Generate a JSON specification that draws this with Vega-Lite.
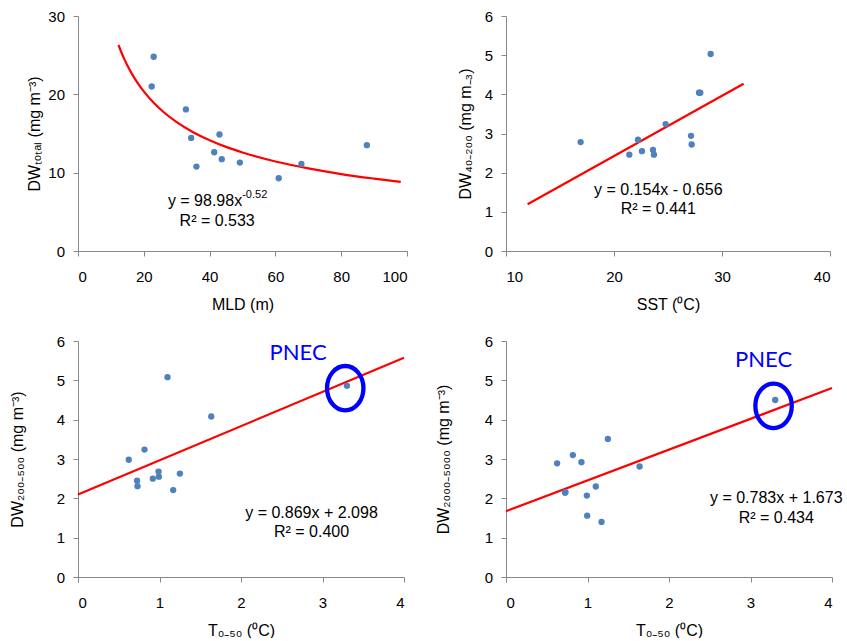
{
  "$schema": "https://vega.github.io/schema/vega-lite/v6.json",
  "padding": {"left": 9, "top": 9, "right": 0, "bottom": 0},
  "background": "white",
  "datasets": {
    "p1pts": [
      {"mld": 23.0, "dw": 24.8}, {"mld": 22.4, "dw": 21.0}, {"mld": 32.8, "dw": 18.07},
      {"mld": 34.4, "dw": 14.44}, {"mld": 43.0, "dw": 14.87}, {"mld": 41.4, "dw": 12.61},
      {"mld": 43.7, "dw": 11.72}, {"mld": 36.0, "dw": 10.78}, {"mld": 49.2, "dw": 11.29},
      {"mld": 61.0, "dw": 9.29}, {"mld": 67.9, "dw": 11.12}, {"mld": 87.8, "dw": 13.51}
    ],
    "p1fit": [
      {"mld": 12.3, "dw": 26.30}, {"mld": 14, "dw": 24.56}, {"mld": 16, "dw": 22.90},
      {"mld": 18, "dw": 21.53}, {"mld": 20, "dw": 20.37}, {"mld": 23, "dw": 18.92},
      {"mld": 26, "dw": 17.74}, {"mld": 30, "dw": 16.45}, {"mld": 35, "dw": 15.17},
      {"mld": 40, "dw": 14.14}, {"mld": 45, "dw": 13.29}, {"mld": 50, "dw": 12.58},
      {"mld": 60, "dw": 11.43}, {"mld": 70, "dw": 10.54}, {"mld": 80, "dw": 9.82},
      {"mld": 90, "dw": 9.24}, {"mld": 98.1, "dw": 8.82}
    ],
    "p2pts": [
      {"sst": 16.91, "dw": 2.78}, {"sst": 21.42, "dw": 2.46}, {"sst": 22.22, "dw": 2.84},
      {"sst": 22.59, "dw": 2.55}, {"sst": 23.61, "dw": 2.58}, {"sst": 23.70, "dw": 2.46},
      {"sst": 24.78, "dw": 3.24}, {"sst": 27.13, "dw": 2.94}, {"sst": 27.19, "dw": 2.72},
      {"sst": 27.87, "dw": 4.04}, {"sst": 27.99, "dw": 4.04}, {"sst": 28.95, "dw": 5.03}
    ],
    "p2fit": [{"sst": 12, "dw": 1.192}, {"sst": 32, "dw": 4.272}],
    "p3pts": [
      {"t": 1.098, "dw": 5.08}, {"t": 1.635, "dw": 4.08}, {"t": 0.816, "dw": 3.24},
      {"t": 0.623, "dw": 2.98}, {"t": 0.725, "dw": 2.45}, {"t": 0.730, "dw": 2.31},
      {"t": 0.918, "dw": 2.50}, {"t": 0.988, "dw": 2.68}, {"t": 0.992, "dw": 2.55},
      {"t": 1.25, "dw": 2.63}, {"t": 1.168, "dw": 2.21}, {"t": 3.30, "dw": 4.86}
    ],
    "p3fit": [{"t": 0, "dw": 2.098}, {"t": 4, "dw": 5.574}],
    "p4pts": [
      {"t": 0.627, "dw": 2.89}, {"t": 0.820, "dw": 3.10}, {"t": 0.926, "dw": 2.92},
      {"t": 1.25, "dw": 3.51}, {"t": 1.639, "dw": 2.81}, {"t": 0.725, "dw": 2.14},
      {"t": 0.730, "dw": 2.16}, {"t": 1.102, "dw": 2.30}, {"t": 0.992, "dw": 2.07},
      {"t": 0.996, "dw": 1.56}, {"t": 1.172, "dw": 1.40}, {"t": 3.303, "dw": 4.50}
    ],
    "p4fit": [{"t": 0, "dw": 1.673}, {"t": 4, "dw": 4.805}]
  },
  "config": {
    "view": {"stroke": null},
    "axis": {
      "grid": false, "domainColor": "#888888", "tickColor": "#888888", "tickSize": 5,
      "labelFont": "Liberation Sans", "labelFontSize": 15, "labelColor": "#000000",
      "titleFont": "Liberation Sans", "titleFontSize": 16, "titleFontWeight": "normal", "titleColor": "#000000",
      "format": "d", "labelOverlap": false
    },
    "axisX": {"labelPadding": 13, "titlePadding": 12},
    "axisY": {"labelPadding": 8.5},
    "text": {"font": "Liberation Sans", "fontSize": 16, "color": "#000000"},
    "point": {"filled": true, "color": "#4F81BD", "size": 40, "opacity": 1}
  },
  "bounds": "flush",
  "columns": 2,
  "spacing": {"row": 90, "column": 99},
  "concat": [
    {
      "width": 329, "height": 235,
      "layer": [
        {
          "data": {"name": "p1fit"},
          "mark": {"type": "line", "color": "#FF0000", "strokeWidth": 2.2, "interpolate": "monotone"},
          "encoding": {
            "x": {"field": "mld", "type": "quantitative", "scale": {"domain": [0, 100], "nice": false},
                  "axis": {"values": [0, 20, 40, 60, 80, 100], "labelOverlap": false}, "title": "MLD (m)"},
            "y": {"field": "dw", "type": "quantitative", "scale": {"domain": [0, 30], "nice": false},
                  "axis": {"values": [0, 10, 20, 30], "titlePadding": 5.5, "labelOverlap": false}, "title": "DWₜₒₜₐₗ (mg m⁻³)"}
          }
        },
        {
          "data": {"name": "p1pts"},
          "mark": {"type": "point"},
          "encoding": {
            "x": {"field": "mld", "type": "quantitative"},
            "y": {"field": "dw", "type": "quantitative"}
          }
        },
        {
          "data": {"values": [{"mld": 49.9, "dw": 6.35, "label": "y = 98.98x"}]},
          "mark": {"type": "text", "align": "right"},
          "encoding": {
            "x": {"field": "mld", "type": "quantitative"},
            "y": {"field": "dw", "type": "quantitative"},
            "text": {"field": "label"}
          }
        },
        {
          "data": {"values": [{"mld": 49.9, "dw": 6.35, "label": "-0.52"}]},
          "mark": {"type": "text", "align": "left", "fontSize": 11, "dy": -6},
          "encoding": {
            "x": {"field": "mld", "type": "quantitative"},
            "y": {"field": "dw", "type": "quantitative"},
            "text": {"field": "label"}
          }
        },
        {
          "data": {"values": [{"mld": 42.3, "dw": 3.79, "label": "R² = 0.533"}]},
          "mark": {"type": "text", "align": "center"},
          "encoding": {
            "x": {"field": "mld", "type": "quantitative"},
            "y": {"field": "dw", "type": "quantitative"},
            "text": {"field": "label"}
          }
        }
      ]
    },
    {
      "width": 324, "height": 235,
      "layer": [
        {
          "data": {"name": "p2fit"},
          "mark": {"type": "line", "color": "#FF0000", "strokeWidth": 2.2},
          "encoding": {
            "x": {"field": "sst", "type": "quantitative", "scale": {"domain": [10, 40], "nice": false},
                  "axis": {"values": [10, 20, 30, 40], "labelOverlap": false}, "title": "SST (⁰C)"},
            "y": {"field": "dw", "type": "quantitative", "scale": {"domain": [0, 6], "nice": false},
                  "axis": {"values": [0, 1, 2, 3, 4, 5, 6], "tickCount": 7, "titlePadding": 11, "labelOverlap": false}, "title": "DW₄₀₋₂₀₀ (mg m₋₃)"}
          }
        },
        {
          "data": {"name": "p2pts"},
          "mark": {"type": "point"},
          "encoding": {
            "x": {"field": "sst", "type": "quantitative"},
            "y": {"field": "dw", "type": "quantitative"}
          }
        },
        {
          "data": {"values": [
            {"sst": 24.1, "dw": 1.57, "label": "y = 0.154x - 0.656"},
            {"sst": 24.1, "dw": 1.08, "label": "R² = 0.441"}
          ]},
          "mark": {"type": "text", "align": "center"},
          "encoding": {
            "x": {"field": "sst", "type": "quantitative"},
            "y": {"field": "dw", "type": "quantitative"},
            "text": {"field": "label"}
          }
        }
      ]
    },
    {
      "width": 326, "height": 236,
      "layer": [
        {
          "data": {"name": "p3fit"},
          "mark": {"type": "line", "color": "#FF0000", "strokeWidth": 2.2},
          "encoding": {
            "x": {"field": "t", "type": "quantitative", "scale": {"domain": [0, 4], "nice": false},
                  "axis": {"values": [0, 1, 2, 3, 4], "labelOverlap": false}, "title": "T₀₋₅₀ (⁰C)"},
            "y": {"field": "dw", "type": "quantitative", "scale": {"domain": [0, 6], "nice": false},
                  "axis": {"values": [0, 1, 2, 3, 4, 5, 6], "tickCount": 7, "titlePadding": 31, "labelOverlap": false}, "title": "DW₂₀₀₋₅₀₀ (mg m⁻³)"}
          }
        },
        {
          "data": {"name": "p3pts"},
          "mark": {"type": "point"},
          "encoding": {
            "x": {"field": "t", "type": "quantitative"},
            "y": {"field": "dw", "type": "quantitative"}
          }
        },
        {
          "data": {"values": [{"t": 3.279, "dw": 4.80}]},
          "mark": {"type": "point", "filled": false, "shape": "M-0.82,0A0.82,1,0,1,0,0.82,0A0.82,1,0,1,0,-0.82,0Z", "size": 1971, "stroke": "#0000FF", "strokeWidth": 4.3, "opacity": 1},
          "encoding": {
            "x": {"field": "t", "type": "quantitative"},
            "y": {"field": "dw", "type": "quantitative"}
          }
        },
        {
          "data": {"values": [{"t": 2.70, "dw": 5.69, "label": "PNEC"}]},
          "mark": {"type": "text", "align": "center", "font": "Lato", "fontSize": 22, "color": "#0000FF"},
          "encoding": {
            "x": {"field": "t", "type": "quantitative"},
            "y": {"field": "dw", "type": "quantitative"},
            "text": {"field": "label"}
          }
        },
        {
          "data": {"values": [
            {"t": 2.865, "dw": 1.62, "label": "y = 0.869x + 2.098"},
            {"t": 2.865, "dw": 1.14, "label": "R² = 0.400"}
          ]},
          "mark": {"type": "text", "align": "center"},
          "encoding": {
            "x": {"field": "t", "type": "quantitative"},
            "y": {"field": "dw", "type": "quantitative"},
            "text": {"field": "label"}
          }
        }
      ]
    },
    {
      "width": 326, "height": 236,
      "layer": [
        {
          "data": {"name": "p4fit"},
          "mark": {"type": "line", "color": "#FF0000", "strokeWidth": 2.2},
          "encoding": {
            "x": {"field": "t", "type": "quantitative", "scale": {"domain": [0, 4], "nice": false},
                  "axis": {"values": [0, 1, 2, 3, 4], "labelOverlap": false}, "title": "T₀₋₅₀ (⁰C)"},
            "y": {"field": "dw", "type": "quantitative", "scale": {"domain": [0, 6], "nice": false},
                  "axis": {"values": [0, 1, 2, 3, 4, 5, 6], "tickCount": 7, "titlePadding": 32.5, "labelOverlap": false}, "title": "DW₂₀₀₀₋₅₀₀₀ (mg m⁻³)"}
          }
        },
        {
          "data": {"name": "p4pts"},
          "mark": {"type": "point"},
          "encoding": {
            "x": {"field": "t", "type": "quantitative"},
            "y": {"field": "dw", "type": "quantitative"}
          }
        },
        {
          "data": {"values": [{"t": 3.283, "dw": 4.35}]},
          "mark": {"type": "point", "filled": false, "shape": "M-0.82,0A0.82,1,0,1,0,0.82,0A0.82,1,0,1,0,-0.82,0Z", "size": 1971, "stroke": "#0000FF", "strokeWidth": 4.3, "opacity": 1},
          "encoding": {
            "x": {"field": "t", "type": "quantitative"},
            "y": {"field": "dw", "type": "quantitative"}
          }
        },
        {
          "data": {"values": [{"t": 3.16, "dw": 5.51, "label": "PNEC"}]},
          "mark": {"type": "text", "align": "center", "font": "Lato", "fontSize": 22, "color": "#0000FF"},
          "encoding": {
            "x": {"field": "t", "type": "quantitative"},
            "y": {"field": "dw", "type": "quantitative"},
            "text": {"field": "label"}
          }
        },
        {
          "data": {"values": [
            {"t": 3.316, "dw": 2.0, "label": "y = 0.783x + 1.673"},
            {"t": 3.316, "dw": 1.51, "label": "R² = 0.434"}
          ]},
          "mark": {"type": "text", "align": "center"},
          "encoding": {
            "x": {"field": "t", "type": "quantitative"},
            "y": {"field": "dw", "type": "quantitative"},
            "text": {"field": "label"}
          }
        }
      ]
    }
  ]
}
